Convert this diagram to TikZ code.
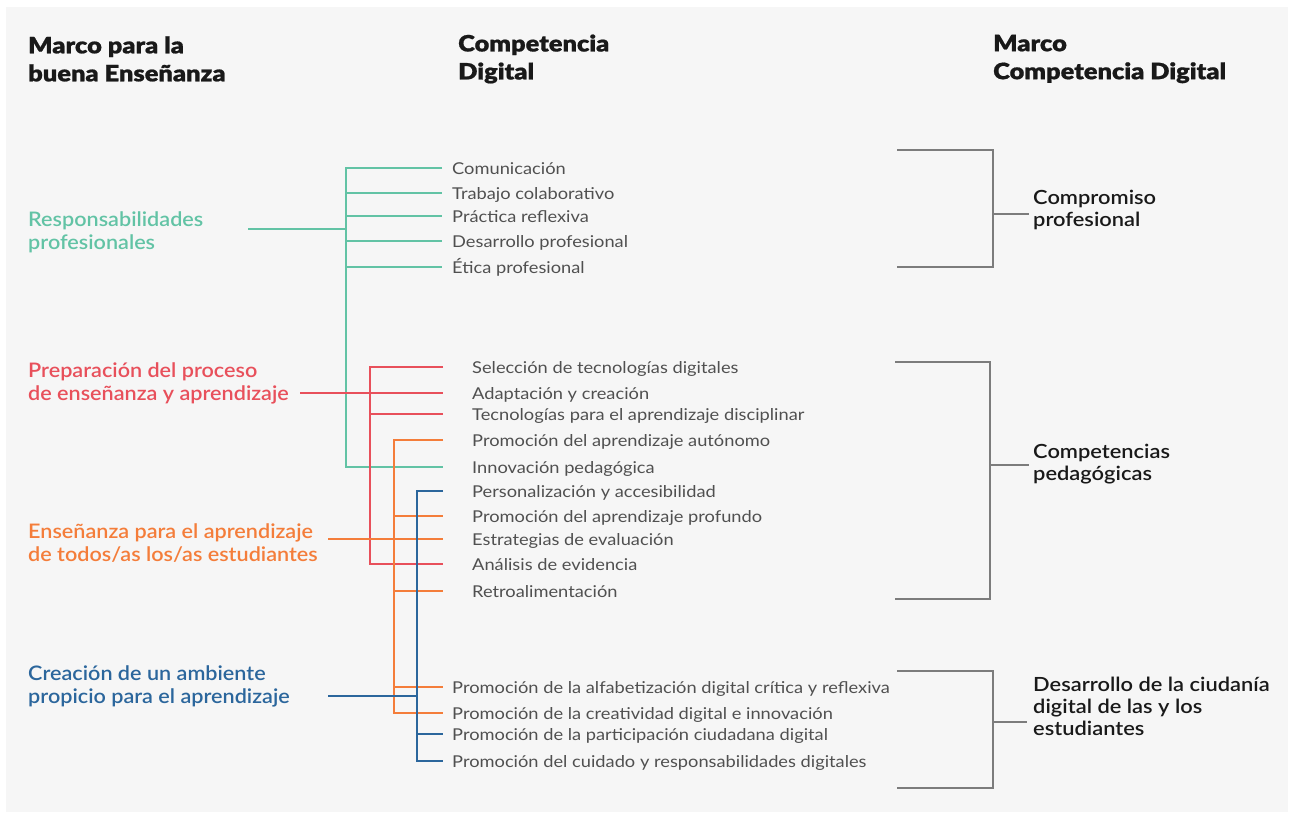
\documentclass[tikz,border=0pt]{standalone}
\usepackage{fontspec}
\setmainfont{Lato}
\newfontfamily\heavyfont{Lato Black}[FakeStretch=1.13, FakeBold=0.8]
\newfontfamily\medfont{Lato Semibold}[FakeStretch=1.08]
\newfontfamily\rmedfont{Lato Semibold}[FakeStretch=1.12]
\newfontfamily\itemfont{Lato}[FakeStretch=1.12]
\definecolor{bgc}{HTML}{F6F6F6}
\definecolor{tealc}{HTML}{62C3A5}
\definecolor{redc}{HTML}{E8505B}
\definecolor{orangec}{HTML}{F47D3A}
\definecolor{bluec}{HTML}{2B669C}
\definecolor{itemc}{HTML}{505050}
\definecolor{brc}{HTML}{7C7C7C}
\tikzset{
  hdr/.style={anchor=west, align=left, inner sep=0pt, text=black!90, font=\heavyfont\fontsize{22.5}{28}\selectfont},
  grp/.style={anchor=west, align=left, inner sep=0pt, font=\medfont\fontsize{20}{23}\selectfont},
  rlab/.style={anchor=west, align=left, inner sep=0pt, text=black!90, font=\rmedfont\fontsize{19.5}{22}\selectfont},
  item/.style={anchor=west, inner sep=0pt, text=itemc, text height=13.5pt, text depth=0pt, font=\itemfont\fontsize{16.3}{18}\selectfont},
  cl/.style={line width=1.9pt, line join=miter},
  tl/.style={cl, draw=tealc},
  rl/.style={cl, draw=redc},
  ol/.style={cl, draw=orangec},
  bl/.style={cl, draw=bluec},
  br/.style={line width=2.2pt, draw=brc, line join=miter},
}
\begin{document}
\begin{tikzpicture}[x=1pt,y=-1pt]
\useasboundingbox (0,0) rectangle (1290,814);
\fill[white] (0,0) rectangle (1290,814);
\fill[bgc] (6,7) rectangle (1288,812);

% headers
\node[hdr] (h1) at (28,59) {Marco para la\\buena Enseñanza};
\node[hdr] (h2) at (458,59) {Competencia\\Digital};
\node[hdr] (h3) at (993,59) {Marco\\Competencia Digital};

% left groups
\node[grp, text=tealc] (resp) at (28,232) {Responsabilidades\\profesionales};
\node[grp, text=redc] (prep) at (28,383) {Preparación del proceso\\de enseñanza y aprendizaje};
\node[grp, text=orangec] (ens) at (28,543) {Enseñanza para el aprendizaje\\de todos/as los/as estudiantes};
\node[grp, text=bluec] (cre) at (28,686) {Creación de un ambiente\\propicio para el aprendizaje};

% items group 1
\node[item] (c1) at (452,168) {Comunicación};
\node[item] (c2) at (452,193) {Trabajo colaborativo};
\node[item] (c3) at (452,216) {Práctica reflexiva};
\node[item] (c4) at (452,241) {Desarrollo profesional};
\node[item] (c5) at (452,267) {Ética profesional};
% items group 2
\node[item] (p1) at (472,367) {Selección de tecnologías digitales};
\node[item] (p2) at (472,393) {Adaptación y creación};
\node[item] (p3) at (472,414) {Tecnologías para el aprendizaje disciplinar};
\node[item] (p4) at (472,440) {Promoción del aprendizaje autónomo};
\node[item] (p5) at (472,467) {Innovación pedagógica};
\node[item] (p6) at (472,491) {Personalización y accesibilidad};
\node[item] (p7) at (472,516) {Promoción del aprendizaje profundo};
\node[item] (p8) at (472,539) {Estrategias de evaluación};
\node[item] (p9) at (472,564) {Análisis de evidencia};
\node[item] (p10) at (472,591) {Retroalimentación};
% items group 3
\node[item] (d1) at (452,687) {Promoción de la alfabetización digital crítica y reflexiva};
\node[item] (d2) at (452,713) {Promoción de la creatividad digital e innovación};
\node[item] (d3) at (452,734) {Promoción de la participación ciudadana digital};
\node[item] (d4) at (452,761) {Promoción del cuidado y responsabilidades digitales};

% right labels
\node[rlab] (r1) at (1033,210) {Compromiso\\profesional};
\node[rlab] (r2) at (1033,464) {Competencias\\pedagógicas};
\node[rlab] (r3) at (1033,706) {Desarrollo de la ciudanía\\digital de las y los\\estudiantes};

% spine coordinates
\coordinate (tealx) at (346,0);
\coordinate (redx) at (370,0);
\coordinate (orx) at (394,0);
\coordinate (blx) at (417,0);
\coordinate (respout) at (248,229);
\coordinate (prepout) at (300,393);
\coordinate (ensout) at (328,539);
\coordinate (creout) at (328,696);

% teal
\draw[tl] (respout) -- (tealx |- respout);
\draw[tl] ([xshift=-10pt]c1.west) -| (tealx |- p5.west) -- ([xshift=-29pt]p5.west);
\foreach \n in {c2,c3,c4,c5} \draw[tl] (tealx |- \n.west) -- ([xshift=-10pt]\n.west);

% red
\draw[rl] ([xshift=-29pt]p1.west) -| (redx |- p9.west) -- ([xshift=-29pt]p9.west);
\draw[rl] (prepout) -- ([xshift=-29pt]p2.west);
\draw[rl] (redx |- p3.west) -- ([xshift=-29pt]p3.west);

% orange
\draw[ol] ([xshift=-29pt]p4.west) -| (orx |- d2.west) -- ([xshift=-9pt]d2.west);
\draw[ol] (ensout) -- ([xshift=-29pt]p8.west);
\foreach \n in {p7,p10} \draw[ol] (orx |- \n.west) -- ([xshift=-29pt]\n.west);
\draw[ol] (orx |- d1.west) -- ([xshift=-9pt]d1.west);

% blue
\draw[bl] ([xshift=-29pt]p6.west) -| (blx |- d4.west) -- ([xshift=-9pt]d4.west);
\draw[bl] (blx |- d3.west) -- ([xshift=-9pt]d3.west);
\draw[bl] (creout) -- (blx |- creout);

% brackets
\coordinate (b1a) at (897,150); \coordinate (b1b) at (897,267); \coordinate (b1s) at (993,0); \coordinate (t1) at (1029,214);
\coordinate (b2a) at (895,362); \coordinate (b2b) at (895,599); \coordinate (b2s) at (990,0); \coordinate (t2) at (1029,465);
\coordinate (b3a) at (897,671); \coordinate (b3b) at (897,788); \coordinate (b3s) at (993,0); \coordinate (t3) at (1027,722);
\draw[br] (b1a) -| (b1s |- b1b) -- (b1b);
\draw[br] (b1s |- t1) -- (t1);
\draw[br] (b2a) -| (b2s |- b2b) -- (b2b);
\draw[br] (b2s |- t2) -- (t2);
\draw[br] (b3a) -| (b3s |- b3b) -- (b3b);
\draw[br] (b3s |- t3) -- (t3);
\end{tikzpicture}
\end{document}
